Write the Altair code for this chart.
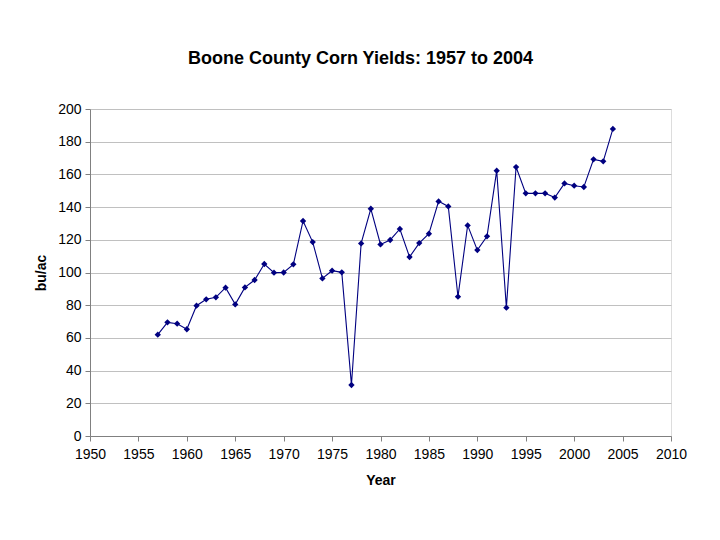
import altair as alt
import pandas as pd

years = list(range(1957, 2005))
yields = [62, 69.5, 68.7, 65.3, 79.7, 83.6, 84.8, 90.7, 80.5, 90.9,
          95.4, 105.2, 99.9, 100, 105, 131.5, 118.6, 96.4, 101.1, 100.1,
          31.2, 117.8, 139, 117.2, 119.9, 126.6, 109.5, 118, 123.7, 143.5,
          140.4, 85.2, 128.8, 113.7, 122.1, 162.3, 78.5, 164.5, 148.4, 148.4,
          148.4, 145.8, 154.5, 153.1, 152.3, 169.2, 168, 187.8]

df = pd.DataFrame({"Year": years, "Yield": yields})

FONT = "Liberation Sans"
NAVY = "#000080"

common = dict(labelFont=FONT, labelFontSize=14, labelColor="black",
              titleFont=FONT, titleFontSize=14, titleFontWeight="bold", titleColor="black",
              domainColor="#808080", tickColor="#808080", tickSize=5,
              labelFlush=False, labelOverlap=False)

x = alt.X("Year:Q", scale=alt.Scale(domain=[1950, 2010], nice=False, zero=False),
          axis=alt.Axis(title="Year", values=list(range(1950, 2011, 5)), format="d",
                        grid=False, labelPadding=6, titlePadding=12, **common))
y = alt.Y("Yield:Q", scale=alt.Scale(domain=[0, 200], nice=False),
          axis=alt.Axis(title="bu/ac", values=list(range(0, 201, 20)),
                        grid=True, gridColor="#c0c0c0", gridWidth=1,
                        labelPadding=4, titlePadding=9, **common))

line = alt.Chart(df).mark_line(color=NAVY, strokeWidth=1.1).encode(x=x, y=y)
pts = alt.Chart(df).mark_point(shape="diamond", filled=True, color=NAVY, size=40, opacity=1).encode(x=x, y=y)

chart = alt.layer(line, pts).properties(
    width=581, height=327,
    autosize=alt.AutoSizeParams(type="none"),
    padding={"left": 82, "top": 101, "right": 40, "bottom": 90},
    title=alt.TitleParams("Boone County Corn Yields: 1957 to 2004", font=FONT, fontSize=18,
                          fontWeight="bold", color="black", offset=34, dx=-20, anchor="middle"),
).configure_view(stroke="#808080", strokeWidth=1).configure(background="white")

chart.save("out.html", embed_options={"renderer": "svg", "actions": False})
